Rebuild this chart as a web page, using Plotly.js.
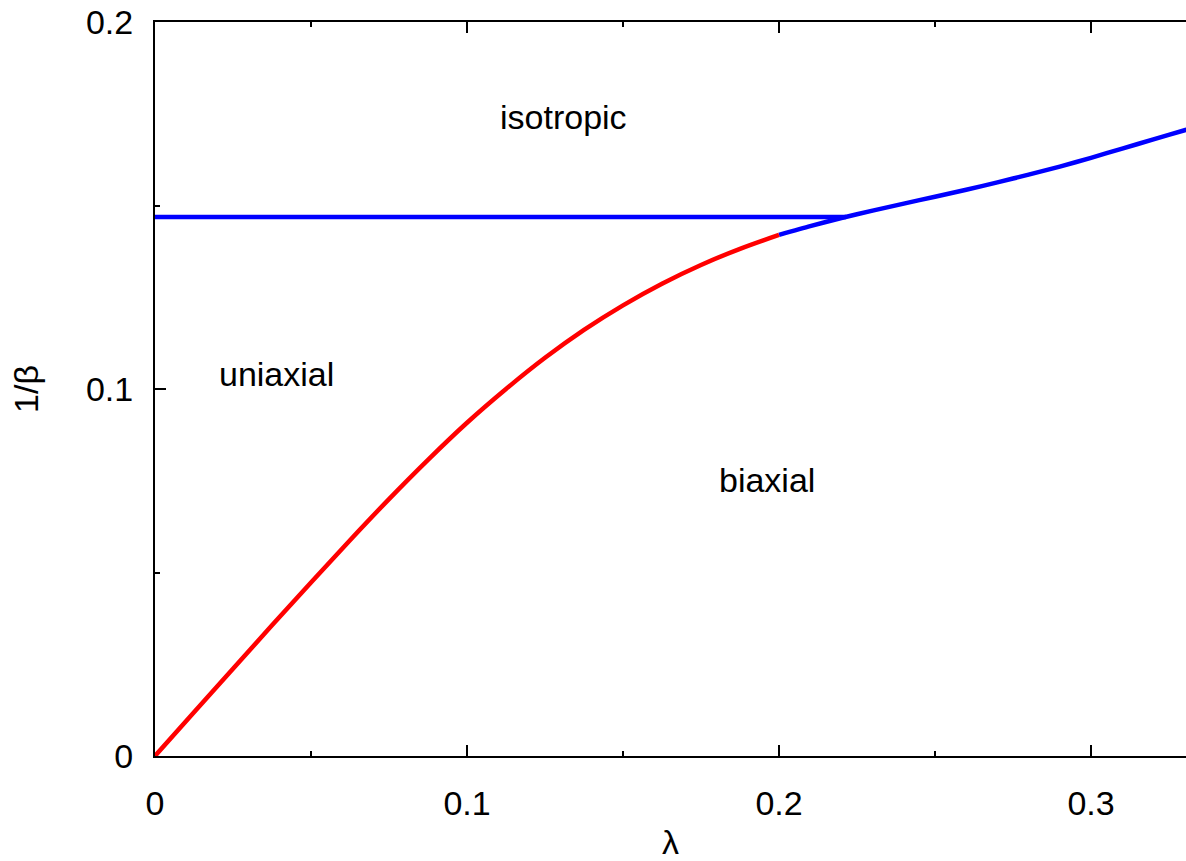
<!DOCTYPE html>
<html>
<head>
<meta charset="utf-8">
<script src="https://cdn.plot.ly/plotly-3.0.1.min.js"></script>
<style>html,body{margin:0;padding:0;background:#fff;}#chart{width:1186px;height:861px;}</style>
</head>
<body>
<div id="chart"></div>
<script>
// Red branch (uniaxial–biaxial boundary)
const redLambda = [0, 0.0125, 0.025, 0.0375, 0.05, 0.0625, 0.075, 0.0875, 0.1, 0.1125, 0.125, 0.1375, 0.15, 0.1625, 0.175, 0.1875, 0.2];
const redInvBeta = [0, 0.0119, 0.0238, 0.0356, 0.0473, 0.0588, 0.0700, 0.0807, 0.0908, 0.1000, 0.1085, 0.1161, 0.1228, 0.1287, 0.1338, 0.1382, 0.1420];
// Blue branch
const blueLambda = [0.2, 0.21, 0.22, 0.23, 0.24, 0.25, 0.26, 0.27, 0.28, 0.29, 0.30, 0.31, 0.32, 0.33, 0.335];
const blueInvBeta = [0.1420, 0.1444, 0.1466, 0.1486, 0.1505, 0.1524, 0.1543, 0.1563, 0.1584, 0.1606, 0.1630, 0.1655, 0.1680, 0.1705, 0.1718];
// Horizontal isotropic–uniaxial line
const flatLambda = [0, 0.2215];
const flatInvBeta = [0.1469, 0.1469];
// Region labels
const labelText = ["isotropic", "uniaxial", "biaxial"];
const labelX = [0.11, 0.02, 0.18];
const labelY = [0.1740, 0.1041, 0.0752];
// Ticks
const xTickVals = [0, 0.1, 0.2, 0.3];
const xTickText = ["0", "0.1", "0.2", "0.3"];
const yTickVals = [0, 0.1, 0.2];
const yTickText = ["0", "0.1", "0.2"];

const font = {family: "Liberation Sans, Arial, sans-serif", size: 34, color: "#000"};

const traces = [
  {x: flatLambda, y: flatInvBeta, mode: "lines", line: {color: "#0000ff", width: 4.5}, hoverinfo: "skip"},
  {x: blueLambda, y: blueInvBeta, mode: "lines", line: {color: "#0000ff", width: 4.5, shape: "spline", smoothing: 0.6}, hoverinfo: "skip"},
  {x: redLambda, y: redInvBeta, mode: "lines", line: {color: "#ff0000", width: 4.5, shape: "spline"}, hoverinfo: "skip"}
];

const annotations = labelText.map((t, i) => ({
  x: labelX[i], y: labelY[i], xref: "x", yref: "y", text: t, showarrow: false,
  xanchor: "left", yanchor: "middle", font: font
}));

const layout = {
  width: 1186, height: 861,
  margin: {l: 155, r: 0, t: 22, b: 105},
  paper_bgcolor: "#fff", plot_bgcolor: "#fff",
  showlegend: false,
  font: font,
  xaxis: {
    range: [0, 0.33045], tickvals: xTickVals, ticktext: xTickText,
    ticks: "inside", ticklen: 11, tickwidth: 2, tickcolor: "#000",
    showline: true, linecolor: "#000", linewidth: 2, mirror: "ticks",
    showgrid: false, zeroline: false,
    minor: {dtick: 0.05, tick0: 0, ticks: "inside", ticklen: 5, tickwidth: 2, tickcolor: "#000", showgrid: false},
    tickfont: font, ticklabelstandoff: 16,
    title: {text: "λ", font: font, standoff: 16}
  },
  yaxis: {
    range: [0, 0.2], tickvals: yTickVals, ticktext: yTickText,
    ticks: "inside", ticklen: 11, tickwidth: 2, tickcolor: "#000",
    showline: true, linecolor: "#000", linewidth: 2, mirror: false,
    showgrid: false, zeroline: false,
    minor: {dtick: 0.05, tick0: 0, ticks: "inside", ticklen: 5, tickwidth: 2, tickcolor: "#000", showgrid: false},
    tickfont: font, ticklabelstandoff: 13,
    title: {text: "1/β", font: font, standoff: 37}
  },
  annotations: annotations
};

Plotly.newPlot("chart", traces, layout, {staticPlot: true, displayModeBar: false});
</script>
</body>
</html>
